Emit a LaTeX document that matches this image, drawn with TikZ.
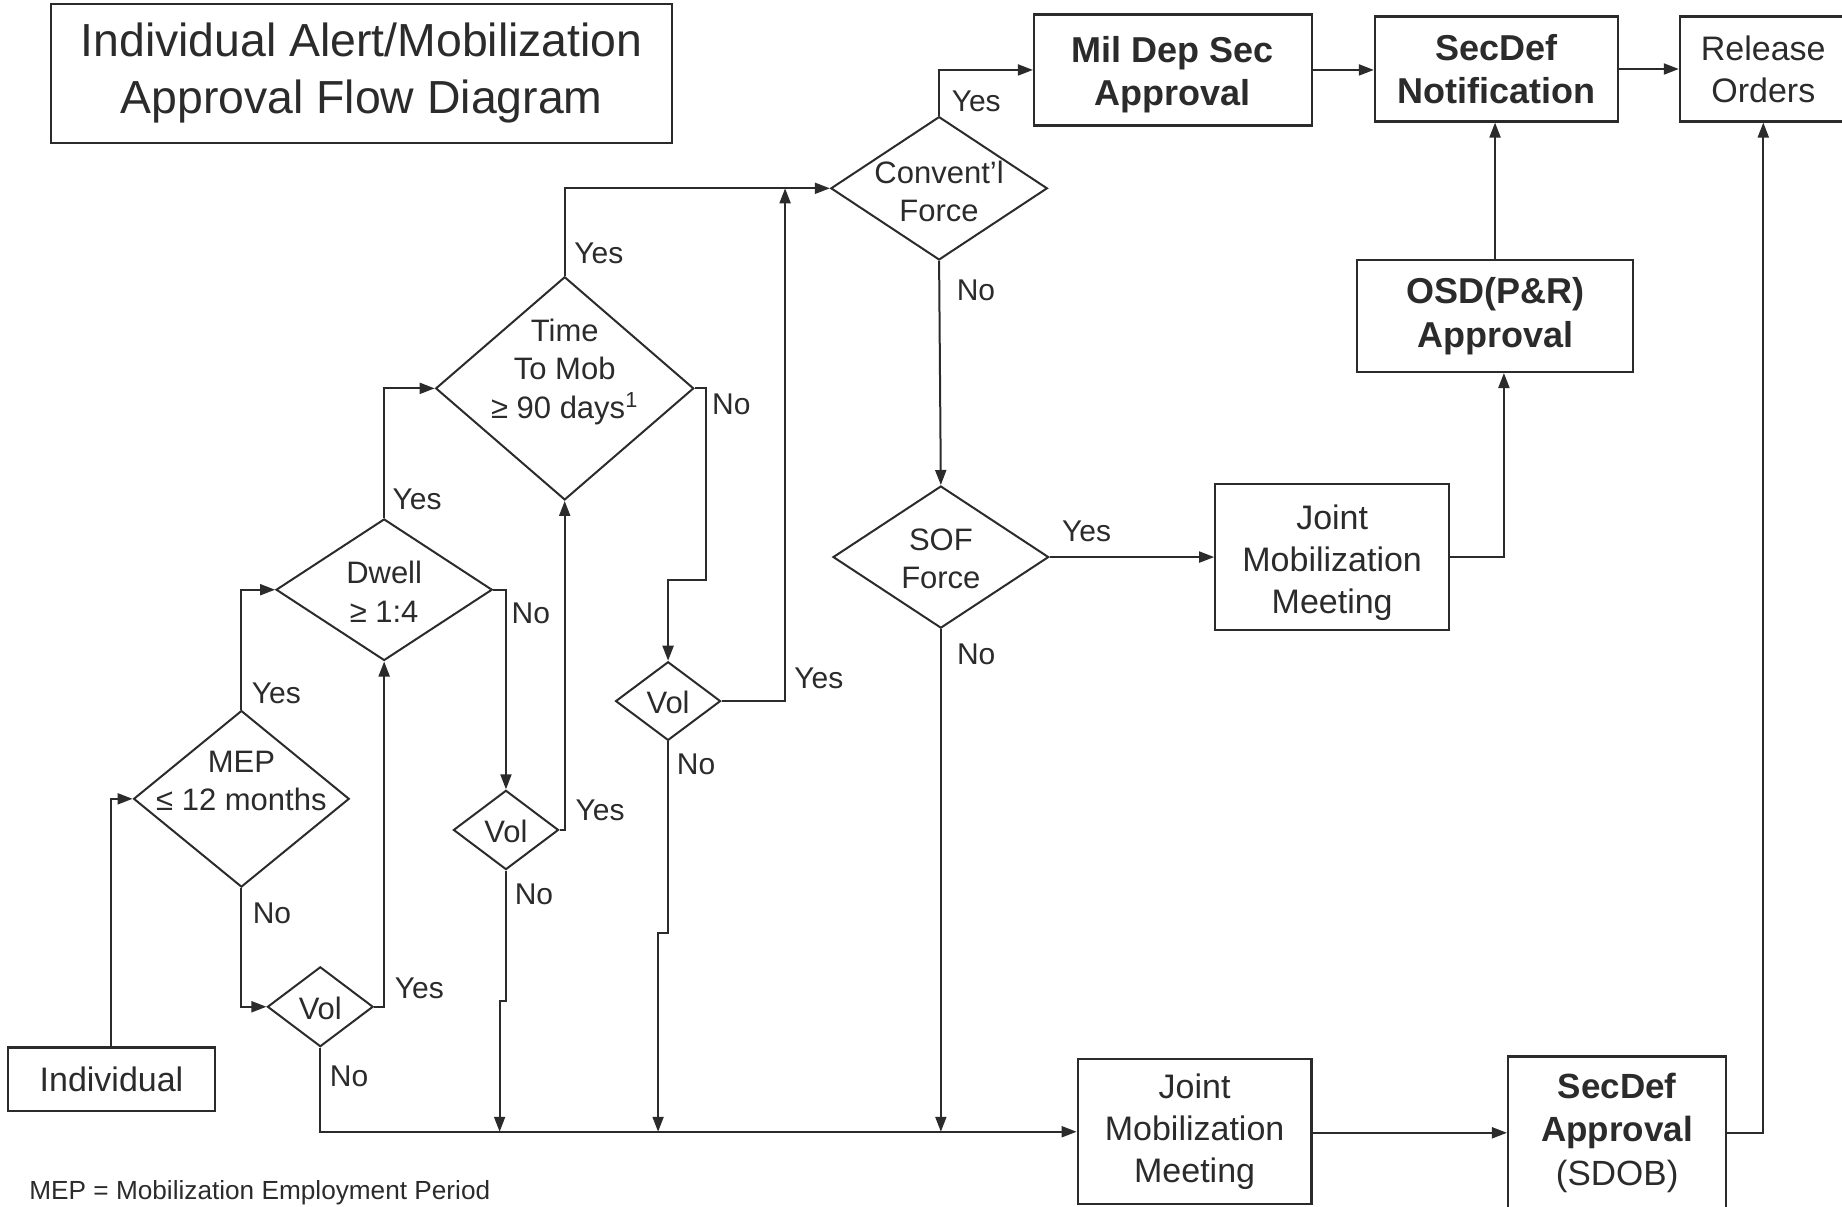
\documentclass[tikz,border=0pt]{standalone}
\usepackage{fontspec}
\setmainfont{Liberation Sans}
\usetikzlibrary{arrows.meta,shapes.geometric}
\newdimen\shrpx
\shrpx=0.5875pt
\definecolor{ink}{HTML}{2B2B2B}
\begin{document}
\begin{tikzpicture}[x=0.5875pt, y=-0.5875pt, color=ink, line width=1pt,
  box/.style args={#1/#2}{draw, line width=1.1pt, rectangle, minimum width=#1\shrpx, minimum height=#2\shrpx, inner sep=0pt, align=center, font=\fontsize{17pt}{21pt}\selectfont},
  bbox/.style args={#1/#2}{box=#1/#2, font=\fontsize{18pt}{21.7pt}\selectfont\bfseries},
  dia/.style args={#1/#2}{draw, line width=1pt, diamond, minimum width=#1\shrpx, minimum height=#2\shrpx, inner sep=0pt},
  dtext/.style={align=center, inner sep=0pt, font=\fontsize{15.5pt}{19.2pt}\selectfont},
  lbl/.style={inner sep=0pt, font=\fontsize{15pt}{18pt}\selectfont},
  arr/.style={-{Triangle[length=7.5pt,width=5.5pt]}}
]
\useasboundingbox (0,0) rectangle (1568,1027);

% boxes
\node[box=528.3/118.1, font=\fontsize{23.2pt}{28.4pt}\selectfont] (title) at (307.85,62.45) {Individual Alert/Mobilization\\Approval Flow Diagram};
\node[bbox=236.3/94.5] (mil) at (998.35,59.55) {\rule{0pt}{18pt}Mil Dep Sec\\Approval};
\node[bbox=206.7/89.3] (notif) at (1273.75,58.75) {SecDef\\Notification};
\node[box=142/89.3] (rel) at (1501,58.75) {Release\\Orders};
\node[bbox=235.3/95] (osd) at (1272.65,269.1) {OSD(P\&R)\\Approval};
\node[box=199/124.6] (jmm1) at (1134,474.2) {\rule{0pt}{18pt}Joint\\Mobilization\\Meeting};
\node[box=199/123.2] (jmm2) at (1016.9,963.4) {Joint\\Mobilization\\Meeting};
\node[box=185.8/130, font=\fontsize{17.5pt}{21.7pt}\selectfont] (sda) at (1376.6,964.3) {\textbf{SecDef}\\\textbf{Approval}\\(SDOB)};
\node[box=176.2/54] (indiv) at (94.9,918.7) {Individual};

% diamonds
\node[dia=184.3/122] (conv) at (799.4,160.3) {};
\node[dtext] (convT) at (799.4,163.2) {Convent'l\\Force};
\node[dia=183.6/121] (sof) at (800.9,474.2) {};
\node[dtext] (sofT) at (800.9,475.6) {SOF\\Force};
\node[dia=219.7/190] (time) at (480.7,330.6) {};
\node[dtext] (timeT) at (480.7,316.4) {Time\\To Mob\\≥ 90 days\textsuperscript{1}};
\node[dia=184/120.5] (dwell) at (327,502) {};
\node[dtext] (dwellT) at (327,503.8) {Dwell\\≥ 1:4};
\node[dia=183.6/150.3] (mep) at (205.5,680) {};
\node[dtext] (mepT) at (205.5,665) {MEP\\≤ 12 months};
\node[dia=90/68] (vlow) at (272.65,857) {};
\node[dtext] (vlowT) at (272.65,858) {Vol};
\node[dia=89.5/67.5] (vmid) at (430.7,706.5) {};
\node[dtext] (vmidT) at (430.7,707.5) {Vol};
\node[dia=89.4/67] (vup) at (568.7,596.8) {};
\node[dtext] (vupT) at (568.7,597.8) {Vol};

% labels
\node[lbl] (yConv) at (831,86) {Yes};
\node[lbl] (nConv) at (830.8,247) {No};
\node[lbl] (ySof) at (925,452) {Yes};
\node[lbl] (nSof) at (831,557) {No};
\node[lbl] (yTime) at (509.7,215.7) {Yes};
\node[lbl] (nTime) at (622.5,344) {No};
\node[lbl] (yDwell) at (355,425) {Yes};
\node[lbl] (nDwell) at (451.9,521.8) {No};
\node[lbl] (yMep) at (235.2,590.2) {Yes};
\node[lbl] (nMep) at (231.5,777.5) {No};
\node[lbl] (yVlow) at (356.9,841) {Yes};
\node[lbl] (nVlow) at (297.2,916) {No};
\node[lbl] (yVmid) at (510.8,689.6) {Yes};
\node[lbl] (nVmid) at (454.5,761.2) {No};
\node[lbl] (yVup) at (697,577.7) {Yes};
\node[lbl] (nVup) at (592.5,651) {No};

\node[anchor=base west, inner sep=0pt, font=\fontsize{13.1pt}{15pt}\selectfont] (foot) at (24.2,1021) {MEP = Mobilization Employment Period};

% connectors
\draw[arr] (indiv.north) |- (mep.west);
\draw[arr] (mep.north) |- (dwell.west);
\draw[arr] (mep.south) |- (vlow.west);
\draw[arr] (vlow.east) -| (dwell.south);
\draw[arr] (vlow.south) |- (jmm2.west);
\draw[arr] (dwell.north) |- (time.west);
\draw[arr] (dwell.east) -| (vmid.north);
\draw[arr] (vmid.east) -| (time.south);
\draw[arr] (vmid.south) -- (vmid.south |- 0,852) -- (425.3,852) -- (425.3,0 |- jmm2.west);
\draw[arr] (time.east) -- (601,0 |- time.east) -- (601,494) -- (vup.north |- 0,494) -- (vup.north);
\draw[arr] (vup.east) -| (668.3,0 |- conv.west);
\draw[arr] (vup.south) -- (vup.south |- 0,794) -- (560.2,794) -- (560.2,0 |- jmm2.west);
\draw[arr] (time.north) |- (conv.west);
\draw[arr] (conv.north) |- (mil.west);
\draw[arr] (conv.south) -- (sof.north);
\draw[arr] (sof.east) -- (jmm1.west);
\draw[arr] (sof.south) -- (sof.south |- jmm2.west);
\draw[arr] (jmm1.east) -| (1280.2,0 |- osd.south);
\draw[arr] (osd.north) -- (osd.north |- notif.south);
\draw[arr] (mil.east) -- (mil.east -| notif.west);
\draw[arr] (notif.east) -- (rel.west);
\draw[arr] (jmm2.east |- sda.west) -- (sda.west);
\draw[arr] (sda.east) -| (rel.south);
\end{tikzpicture}
\end{document}
